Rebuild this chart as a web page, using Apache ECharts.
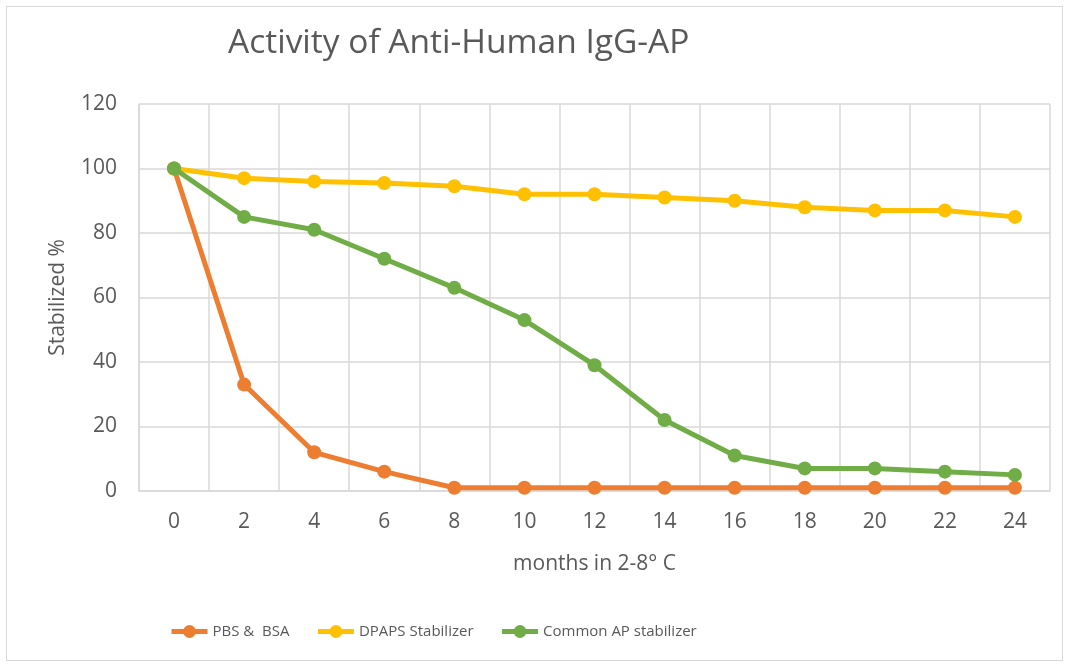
<!DOCTYPE html>
<html><head><meta charset="utf-8">
<script src="https://cdn.jsdelivr.net/npm/echarts@6/dist/echarts.min.js"></script>
<style>
html,body{margin:0;padding:0;background:#fff;}
#frame{position:absolute;left:6px;top:6px;width:1055px;height:653px;border:1px solid #d9d9d9;}
#c{position:absolute;left:0;top:0;width:1069px;height:666px;}
</style></head>
<body><div id="frame"></div><div id="c"></div>
<script>
const months = ['0','2','4','6','8','10','12','14','16','18','20','22','24'];
const pbsBsa = [100,33,12,6,1,1,1,1,1,1,1,1,1];
const dpaps = [100,97,96,95.5,94.5,92,92,91,90,88,87,87,85];
const commonAP = [100,85,81,72,63,53,39,22,11,7,7,6,5];
const seriesNames = ['PBS &  BSA','DPAPS Stabilizer','Common AP stabilizer'];
const colors = ['#ED7D31','#FFC000','#70AD47'];
const font = "'Open Sans','Noto Sans','Liberation Sans',sans-serif";
const chart = echarts.init(document.getElementById('c'), null, {renderer:'canvas'});
function mk(name, data, color, z){
  return {name:name,type:'line',data:data,z:z,symbol:'circle',symbolSize:14,
    lineStyle:{width:5,color:color},itemStyle:{color:color},emphasis:{disabled:true}};
}
chart.setOption({
  animation:false,
  backgroundColor:'transparent',
  title:{text:'Activity of Anti-Human IgG-AP',left:223,top:21,
    textStyle:{fontFamily:font,fontSize:33.5,fontWeight:'normal',color:'#595959'}},
  grid:{left:139,right:19,top:104,bottom:175,containLabel:false},
  legend:{left:169,top:624,padding:0,itemWidth:36,itemHeight:16,itemGap:26,
    lineStyle:{width:5},
    textStyle:{fontFamily:font,fontSize:15,color:'#595959'},
    data:seriesNames},
  xAxis:{type:'category',data:months,boundaryGap:true,
    name:'months in 2-8° C',nameLocation:'middle',nameGap:63,
    nameTextStyle:{fontFamily:font,fontSize:21,color:'#595959'},
    axisLine:{show:true,lineStyle:{color:'#d9d9d9',width:1.5}},
    axisTick:{show:false},
    axisLabel:{fontFamily:font,fontSize:21,color:'#595959',margin:21},
    splitLine:{show:true,lineStyle:{color:'#d9d9d9',width:1.5}}},
  yAxis:{type:'value',min:0,max:120,interval:20,
    name:'Stabilized %',nameLocation:'middle',nameGap:70,
    nameTextStyle:{fontFamily:font,fontSize:21,color:'#595959'},
    axisLine:{show:true,lineStyle:{color:'#d9d9d9',width:1.5}},
    axisTick:{show:false},
    axisLabel:{fontFamily:font,fontSize:21,color:'#595959',margin:22},
    splitLine:{show:true,lineStyle:{color:'#d9d9d9',width:1.5}}},
  series:[mk(seriesNames[0],pbsBsa,colors[0],3),mk(seriesNames[1],dpaps,colors[1],2),mk(seriesNames[2],commonAP,colors[2],4)]
});
</script></body></html>
